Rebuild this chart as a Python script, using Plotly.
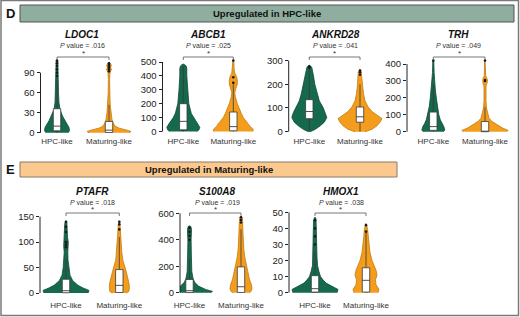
import plotly.graph_objects as go

W, H = 520, 317

# ---------------- data ----------------
groups = ["HPC-like", "Maturing-like"]
genes = ["LDOC1", "ABCB1", "ANKRD28", "TRH", "PTAFR", "S100A8", "HMOX1"]
pvalues = [".016", ".025", ".041", ".049", ".018", ".019", ".038"]
yticks = [
    [0, 30, 60, 90],
    [0, 100, 200, 300, 400, 500],
    [0, 100, 200, 300],
    [0, 100, 200, 300, 400],
    [0, 50, 100, 150],
    [0, 200, 400, 600],
    [0, 10, 20, 30, 40, 50],
]
header_D = "Upregulated in HPC-like"
header_E = "Upregulated in Maturing-like"

# violin density profiles (expression level -> density)
LDOC1_HPC_val = [0, 3, 8, 13, 18, 25, 35, 45, 60, 80, 100, 108, 110]
LDOC1_HPC_den = [11, 12.5, 12, 10, 8, 5.5, 3, 2, 1.5, 1.2, 1, 0.8, 0]
LDOC1_MAT_val = [0, 2, 4, 7, 10, 15, 20, 30, 40, 50, 60, 80, 90, 95, 98, 101, 104, 106]
LDOC1_MAT_den = [20, 22, 18, 10, 6, 4, 3, 2, 1.3, 1, 0.8, 0.6, 1, 2.5, 1.5, 2.5, 1, 0]

ABCB1_HPC_val = [0, 10, 30, 60, 100, 130, 200, 300, 400, 450, 470, 480, 485]
ABCB1_HPC_den = [13.5, 15.5, 16.5, 14, 10, 8, 5.5, 4.3, 3.5, 3.5, 3, 1.5, 0]
ABCB1_MAT_val = [0, 15, 35, 65, 100, 130, 200, 250, 280, 310, 340, 370, 400, 420, 450, 500, 515]
ABCB1_MAT_den = [19.5, 20, 17, 14, 10, 8, 4, 2, 1.5, 2.5, 4, 4, 3, 1.5, 0.8, 0.6, 0]

ANKRD28_HPC_val = [0, 10, 25, 40, 60, 80, 100, 130, 160, 200, 240, 260, 270, 278, 280]
ANKRD28_HPC_den = [1, 6, 11, 15, 17.5, 16, 14, 10, 8, 5.5, 4, 3, 2.5, 1, 0]
ANKRD28_MAT_val = [0, 10, 25, 40, 55, 70, 85, 105, 130, 160, 200, 230, 250, 258, 262]
ANKRD28_MAT_den = [5, 12, 17, 20, 22, 17, 12, 8, 5, 3.5, 2.5, 2, 1.8, 1, 0]

TRH_HPC_val = [0, 10, 30, 50, 70, 100, 150, 200, 250, 300, 350, 418, 420]
TRH_HPC_den = [10, 11.5, 10.5, 8.5, 7, 5.5, 4, 3, 2, 1.3, 0.8, 0.5, 0]
TRH_MAT_val = [0, 8, 20, 40, 60, 80, 110, 140, 180, 230, 270, 290, 300, 315, 330, 370, 418, 420]
TRH_MAT_den = [22, 23, 18, 12, 7, 4, 2.5, 1.5, 1, 0.8, 1, 2.2, 2.5, 2, 0.7, 0.5, 0.4, 0]

PTAFR_HPC_val = [0, 5, 10, 15, 20, 25, 35, 50, 65, 80, 92, 100, 110, 125, 135, 140, 142]
PTAFR_HPC_den = [22, 23, 17, 12, 9, 6.5, 4, 2.8, 2, 1.8, 2.3, 2.3, 1.5, 1.5, 1.3, 0.8, 0]
PTAFR_MAT_val = [0, 3, 8, 15, 25, 35, 45, 55, 65, 80, 95, 110, 125, 135, 140, 142]
PTAFR_MAT_den = [7, 9.5, 10, 10, 9, 8, 6.5, 5, 3.5, 2.5, 2, 1.7, 1.3, 1, 0.5, 0]

S100A8_HPC_val = [0, 10, 25, 50, 80, 110, 160, 200, 300, 400, 450, 480, 500, 505]
S100A8_HPC_den = [21, 23, 16, 9, 5, 3.5, 2.3, 2, 1.8, 1.6, 2, 2, 1.3, 0]
S100A8_MAT_val = [0, 10, 30, 60, 100, 150, 200, 260, 330, 400, 480, 540, 570, 575]
S100A8_MAT_den = [8, 10, 11, 10.5, 8.5, 7, 5.5, 4, 2.8, 2, 1.8, 1.6, 1.2, 0]

HMOX1_HPC_val = [0, 2, 4, 6, 8, 10, 13, 17, 22, 30, 38, 44, 46, 47]
HMOX1_HPC_den = [22, 23, 17, 11, 8, 5.5, 4, 2.5, 2, 1.8, 1.6, 1.5, 1, 0]
HMOX1_MAT_val = [0, 2, 5, 8, 11, 14, 17, 20, 25, 30, 35, 40, 43]
HMOX1_MAT_den = [12, 13, 10, 9.5, 11, 10, 8, 6, 4, 3, 2.2, 1.5, 0]

# box statistics: lower whisker, q1, median, q3, upper whisker
LDOC1_HPC_box = [0, 3, 10, 36, 80]
LDOC1_MAT_box = [0, 0.5, 4, 17, 42]
ABCB1_HPC_box = [0, 12, 73, 200, 470]
ABCB1_MAT_box = [0, 5, 35, 140, 340]
ANKRD28_HPC_box = [0, 55, 85, 135, 265]
ANKRD28_MAT_box = [0, 40, 63, 104, 200]
TRH_HPC_box = [0, 8, 30, 116, 280]
TRH_MAT_box = [0, 0, 3, 60, 145]
PTAFR_HPC_box = [0, 0.5, 4.5, 27, 65]
PTAFR_MAT_box = [0, 1, 15, 46, 110]
S100A8_HPC_box = [0, 1, 15, 100, 250]
S100A8_MAT_box = [0, 2, 45, 195, 480]
HMOX1_HPC_box = [0, 0.4, 2.5, 10.6, 26]
HMOX1_MAT_box = [0, 0.4, 7.7, 15.5, 38]

# outlying cells
LDOC1_HPC_out = [85, 90, 95, 100, 104, 108]
LDOC1_MAT_out = [92, 95, 98, 100, 102, 104]
ABCB1_HPC_out = []
ABCB1_MAT_out = [350, 390, 510]
ANKRD28_HPC_out = [270, 275]
ANKRD28_MAT_out = [240, 250, 258]
TRH_HPC_out = [420]
TRH_MAT_out = [300, 305, 420]
PTAFR_HPC_out = [90, 95, 100, 120, 130, 140]
PTAFR_MAT_out = [125, 135, 140]
S100A8_HPC_out = [400, 430, 460, 490]
S100A8_MAT_out = [530, 550, 570]
HMOX1_HPC_out = [30, 35, 40, 45]
HMOX1_MAT_out = [38, 42]

data = {
    "LDOC1": [(LDOC1_HPC_val, LDOC1_HPC_den, LDOC1_HPC_box, LDOC1_HPC_out),
              (LDOC1_MAT_val, LDOC1_MAT_den, LDOC1_MAT_box, LDOC1_MAT_out)],
    "ABCB1": [(ABCB1_HPC_val, ABCB1_HPC_den, ABCB1_HPC_box, ABCB1_HPC_out),
              (ABCB1_MAT_val, ABCB1_MAT_den, ABCB1_MAT_box, ABCB1_MAT_out)],
    "ANKRD28": [(ANKRD28_HPC_val, ANKRD28_HPC_den, ANKRD28_HPC_box, ANKRD28_HPC_out),
                (ANKRD28_MAT_val, ANKRD28_MAT_den, ANKRD28_MAT_box, ANKRD28_MAT_out)],
    "TRH": [(TRH_HPC_val, TRH_HPC_den, TRH_HPC_box, TRH_HPC_out),
            (TRH_MAT_val, TRH_MAT_den, TRH_MAT_box, TRH_MAT_out)],
    "PTAFR": [(PTAFR_HPC_val, PTAFR_HPC_den, PTAFR_HPC_box, PTAFR_HPC_out),
              (PTAFR_MAT_val, PTAFR_MAT_den, PTAFR_MAT_box, PTAFR_MAT_out)],
    "S100A8": [(S100A8_HPC_val, S100A8_HPC_den, S100A8_HPC_box, S100A8_HPC_out),
               (S100A8_MAT_val, S100A8_MAT_den, S100A8_MAT_box, S100A8_MAT_out)],
    "HMOX1": [(HMOX1_HPC_val, HMOX1_HPC_den, HMOX1_HPC_box, HMOX1_HPC_out),
              (HMOX1_MAT_val, HMOX1_MAT_den, HMOX1_MAT_box, HMOX1_MAT_out)],
}

# ---------------- layout geometry (pixels) ----------------
geom = [
    dict(ax=40.5, c0=57.0, c1=109.0, p0=132.8, pT=72.7, row="D", title_x=82),
    dict(ax=162.5, c0=183.3, c1=233.3, p0=131.5, pT=62.0, row="D", title_x=208),
    dict(ax=288.7, c0=309.3, c1=360.0, p0=131.7, pT=60.5, row="D", title_x=335),
    dict(ax=407.0, c0=433.3, c1=485.0, p0=131.7, pT=64.0, row="D", title_x=458),
    dict(ax=40.0, c0=66.0, c1=119.3, p0=293.0, pT=216.7, row="E", title_x=92),
    dict(ax=180.0, c0=189.5, c1=241.0, p0=292.7, pT=213.3, row="E", title_x=217),
    dict(ax=289.0, c0=315.0, c1=366.0, p0=292.7, pT=212.3, row="E", title_x=341),
]
rows = {
    "D": dict(top=50, bottom=135, title=34, pval=46, bracket=57),
    "E": dict(top=207, bottom=299, title=191, pval=202.5, bracket=213),
}

FONT = "Liberation Sans, Arial, sans-serif"
GREEN, GREEN_LINE = "#15694c", "#0d4a35"
ORANGE, ORANGE_LINE = "#f49c1c", "#c47a0c"
fills = [(GREEN, GREEN_LINE), (ORANGE, ORANGE_LINE)]
BOX_LINE = "#3a3a3a"

fig = go.Figure()
annotations, shapes = [], []

def py2paper(p):
    return 1 - p / H

def label(x, y, text, size, color="#111"):
    annotations.append(dict(x=x / W, y=py2paper(y), xref="paper", yref="paper",
                            xanchor="center", yanchor="middle", text=text, showarrow=False,
                            font=dict(size=size, color=color, family=FONT)))

def line_trace(xs, ys, xa, ya, color, width):
    fig.add_trace(go.Scatter(x=xs, y=ys, mode="lines", line=dict(color=color, width=width),
                             hoverinfo="skip", showlegend=False, xaxis=xa, yaxis=ya))

for i, gene in enumerate(genes):
    g = geom[i]
    r = rows[g["row"]]
    suffix = "" if i == 0 else str(i + 1)
    xa, ya = "x" + suffix, "y" + suffix
    unit = g["c1"] - g["c0"]
    T = yticks[i][-1]
    vpp = T / (g["p0"] - g["pT"])
    ylo = -(r["bottom"] - g["p0"]) * vpp
    yhi = (g["p0"] - r["top"]) * vpp
    right = g["c1"] + 30
    x_r0 = (g["ax"] - g["c0"]) / unit
    x_r1 = (right - g["c0"]) / unit
    bw = 3.7 / unit  # half box width

    for k, (vals, dens, box, outs) in enumerate(data[gene]):
        # violin body
        hw = [d / unit for d in dens]
        xs = [k + w for w in hw] + [k - w for w in reversed(hw)]
        ys = list(vals) + list(reversed(vals))
        fig.add_trace(go.Scatter(x=xs, y=ys, fill="toself", fillcolor=fills[k][0],
                                 line=dict(color=fills[k][1], width=0.8),
                                 mode="lines", hoverinfo="skip", showlegend=False,
                                 xaxis=xa, yaxis=ya))
        lo, q1, med, q3, hi = box
        # whiskers
        line_trace([k, k, None, k, k], [lo, q1, None, q3, hi], xa, ya, BOX_LINE, 0.8)
        # box
        fig.add_trace(go.Scatter(x=[k - bw, k + bw, k + bw, k - bw, k - bw],
                                 y=[q1, q1, q3, q3, q1], fill="toself", fillcolor="white",
                                 mode="lines", line=dict(color=BOX_LINE, width=0.8),
                                 hoverinfo="skip", showlegend=False, xaxis=xa, yaxis=ya))
        # median
        line_trace([k - bw, k + bw], [med, med], xa, ya, BOX_LINE, 0.9)
        if outs:
            fig.add_trace(go.Scatter(x=[k] * len(outs), y=outs, mode="markers",
                                     marker=dict(size=2.6, color="#1a1a1a"),
                                     showlegend=False, hoverinfo="skip",
                                     xaxis=xa, yaxis=ya))

    # significance bracket
    b = (g["p0"] - r["bracket"]) * vpp
    bd = (g["p0"] - r["bracket"] - 3) * vpp
    line_trace([0, 0, 1, 1], [bd, b, b, bd], xa, ya, "#555555", 0.8)
    label((g["c0"] + g["c1"]) / 2, r["bracket"] - 3.5, "*", 8, "#333")
    # y axis line from 0 to top tick
    shapes.append(dict(type="line", xref=xa + " domain", yref=ya, x0=0, x1=0,
                       y0=0, y1=T, line=dict(color="#222", width=1)))

    fig.layout[("xaxis" + suffix)] = dict(
        domain=[g["ax"] / W, right / W], range=[x_r0, x_r1], anchor=ya, automargin=False,
        tickvals=[0, 1], ticktext=groups, ticks="", showline=False, showgrid=False,
        zeroline=False, tickfont=dict(size=8, color="#333", family=FONT))
    fig.layout[("yaxis" + suffix)] = dict(
        domain=[py2paper(r["bottom"]), py2paper(r["top"])], range=[ylo, yhi], anchor=xa,
        automargin=False, tickvals=yticks[i], ticks="outside", ticklen=3, tickwidth=1,
        tickcolor="#222", showline=False, showgrid=False, zeroline=False,
        tickfont=dict(size=9.5, color="#222", family=FONT))

    label(g["title_x"], r["title"], "<b><i>" + gene + "</i></b>", 10)
    label(g["title_x"], r["pval"], "<i>P</i> value = " + pvalues[i], 7, "#333")

# header bars
shapes.append(dict(type="rect", xref="paper", yref="paper", x0=20 / W, x1=514 / W,
                   y0=py2paper(22), y1=py2paper(5), fillcolor="#8fae9f",
                   line=dict(color="#555", width=1), layer="below"))
shapes.append(dict(type="rect", xref="paper", yref="paper", x0=20 / W, x1=397 / W,
                   y0=py2paper(177), y1=py2paper(162), fillcolor="#fbc98e",
                   line=dict(color="#8a7a66", width=1), layer="below"))
label(267, 13.5, "<b>" + header_D + "</b>", 9.5)
label(208.5, 169.5, "<b>" + header_E + "</b>", 9.5)
label(10, 14, "<b>D</b>", 13)
label(10, 169, "<b>E</b>", 13)
# outer frame
shapes.append(dict(type="rect", xref="paper", yref="paper", x0=1 / W, x1=518.5 / W,
                   y0=py2paper(315.5), y1=py2paper(0.5), line=dict(color="#7a7a7a", width=1.5),
                   layer="below"))

fig.update_layout(width=W, height=H, margin=dict(l=0, r=0, t=0, b=0, autoexpand=False),
                  paper_bgcolor="white", plot_bgcolor="rgba(0,0,0,0)",
                  annotations=annotations, shapes=shapes, showlegend=False,
                  font=dict(family=FONT))
fig.write_html("out.html", config={"displayModeBar": False},
               post_script="document.body.style.margin='0';document.body.style.overflow='hidden';")
